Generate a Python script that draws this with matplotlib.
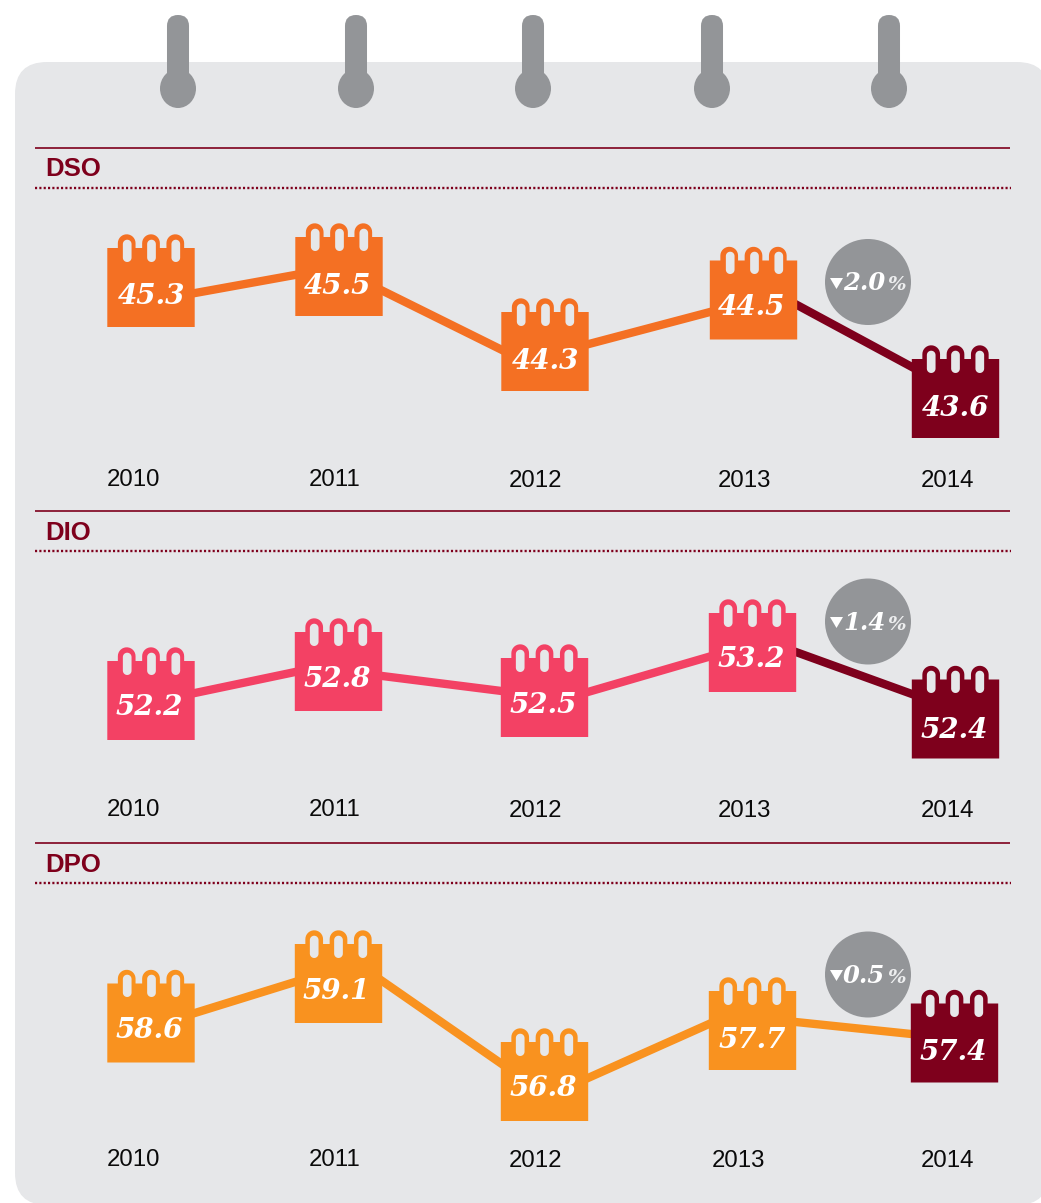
import numpy as np
import matplotlib
matplotlib.use("Agg")
import matplotlib.pyplot as plt
from matplotlib.patches import Circle, Ellipse, FancyBboxPatch
from matplotlib.path import Path

# ---- data -----------------------------------------------------------------
YEARS = [2010, 2011, 2012, 2013, 2014]

DSO_VALUES = [45.3, 45.5, 44.3, 44.5, 43.6]
DIO_VALUES = [52.2, 52.8, 52.5, 53.2, 52.4]
DPO_VALUES = [58.6, 59.1, 56.8, 57.7, 57.4]

# The source infographic is not drawn to scale: drawn heights of the calendars
# (pixels above each panel's lower edge) are read separately from the values.
DSO_HEIGHTS = [222.5, 233.5, 158.5, 210.0, 111.5]
DIO_HEIGHTS = [141.5, 170.5, 144.5, 189.5, 123.0]
DPO_HEIGHTS = [180.0, 219.5, 121.5, 172.5, 160.0]

DSO_LABEL_H = [216.5, 226.5, 152.0, 206.0, 104.5]
DIO_LABEL_H = [138.0, 166.0, 139.5, 186.0, 115.0]
DPO_LABEL_H = [175.5, 215.0, 118.0, 165.5, 154.0]

DSO_LABEL_SHIFT = [0.5, -1.5, 0.5, -2.0, 0.0]
DIO_LABEL_SHIFT = [-1.5, -1.0, -1.5, -1.0, -1.0]
DPO_LABEL_SHIFT = [-1.5, -2.0, -1.5, -0.5, -1.5]

DSO_LINE_FROM = [209.0, 240.8, 154.4, 228.5]
DSO_LINE_TO = [243.0, 138.7, 209.5, 119.5]
DIO_LINE_FROM = [139.8, 171.5, 137.4, 205.7]
DIO_LINE_TO = [179.1, 145.6, 197.9, 132.2]
DPO_LINE_FROM = [176.4, 252.3, 105.6, 185.5]
DPO_LINE_TO = [234.5, 109.4, 198.4, 164.5]

DSO_COLUMNS = [151.0, 339.0, 545.0, 753.5, 955.5]
DIO_COLUMNS = [151.0, 338.5, 544.5, 752.5, 955.5]
DPO_COLUMNS = [151.0, 338.5, 544.5, 752.5, 954.5]

DSO_YEAR_X = [133, 335, 536, 744, 948]
DIO_YEAR_X = [133, 335, 536, 744, 948]
DPO_YEAR_X = [133, 335, 536, 738, 948]
DSO_YEAR_Y = [486, 486, 487, 487, 487]
DIO_YEAR_Y = [816, 816, 817, 817, 817]
DPO_YEAR_Y = [1166, 1166, 1167, 1167, 1167]

PANEL_NAMES = ["DSO", "DIO", "DPO"]
CHANGE_TEXT = ["2.0", "1.4", "0.5"]
HOOK_X = [178, 356, 533, 712, 889]

BG = "#E6E7E9"
GREY = "#939598"
DARK = "#7E001C"
ORANGE = "#F47023"
PINK = "#F34164"
AMBER = "#F9921F"

W, H, DPI = 1041, 1203, 100
SERIF = dict(family="DejaVu Serif", weight="bold", style="italic")
SANS = "Liberation Sans"


# ---- calendar glyph, in pixels around the centre of its body ---------------
def capsule(cx, y0, y1, r, n=14):
    t = np.linspace(np.pi, 0, n)
    top = np.c_[cx + r * np.cos(t), y1 - r + r * np.sin(t)]
    bot = np.c_[cx + r * np.cos(t + np.pi), y0 + r + r * np.sin(t + np.pi)]
    return np.vstack([top, bot])


def polygon(v):
    v = np.vstack([v, v[:1]])
    codes = [Path.MOVETO] + [Path.LINETO] * (len(v) - 2) + [Path.CLOSEPOLY]
    return Path(v, codes)


HW, HH, RING_TOP, RING_R = 43.7, 39.5, 13.7, 8.85
RINGS = (-24.3, 0.0, 24.3)

pts = [(-HW, -HH), (-HW, HH)]
for cx in RINGS:
    t = np.linspace(np.pi, 0, 16)
    pts.append((cx - RING_R, HH))
    arc = np.c_[cx + RING_R * np.cos(t), HH + RING_TOP - RING_R + RING_R * np.sin(t)]
    pts.extend(map(tuple, arc))
    pts.append((cx + RING_R, HH))
pts += [(HW, HH), (HW, -HH)]
BODY = polygon(np.array(pts))
SLOTS = Path.make_compound_path(
    *[polygon(capsule(cx, HH - 13.0, HH + 9.3, 4.35)) for cx in RINGS]
)
TRIANGLE = polygon(np.array([(-6.5, 5.5), (6.5, 5.5), (0.0, -5.5)]))


def px_size(path):
    """Scatter size that keeps a custom marker at one unit per output pixel."""
    return (2 * np.max(np.abs(path.vertices)) * 72 / DPI) ** 2


def year_scale(columns):
    yrs = np.array(YEARS, float)
    cols = np.array(columns, float)

    def fwd(x):
        x = np.asarray(x, float)
        out = np.interp(x, yrs, cols)
        out = np.where(x < yrs[0], cols[0] + (x - yrs[0]) * (cols[1] - cols[0]), out)
        return np.where(x > yrs[-1], cols[-1] + (x - yrs[-1]) * (cols[-1] - cols[-2]), out)

    def inv(p):
        p = np.asarray(p, float)
        out = np.interp(p, cols, yrs)
        out = np.where(p < cols[0], yrs[0] + (p - cols[0]) / (cols[1] - cols[0]), out)
        return np.where(p > cols[-1], yrs[-1] + (p - cols[-1]) / (cols[-1] - cols[-2]), out)

    return fwd, inv


fig = plt.figure(figsize=(W / DPI, H / DPI), dpi=DPI, facecolor="white")

# ---- calendar sheet, hooks and rules ---------------------------------------
bg = fig.add_axes([0, 0, 1, 1], zorder=0)
bg.set_xlim(0, W)
bg.set_ylim(H, 0)
bg.axis("off")
R = 32
bg.add_patch(FancyBboxPatch((15 + R, 62 + R), 1034 - 2 * R, 1143 - 2 * R,
                            boxstyle=f"round,pad={R},rounding_size={R}",
                            fc=BG, ec="none", clip_on=True))
for hx in HOOK_X:
    bg.add_patch(FancyBboxPatch((hx - 0.01, 26), 0.02, 60,
                                boxstyle="round,pad=11,rounding_size=11",
                                fc=GREY, ec="none"))
    bg.add_patch(Ellipse((hx, 88.5), 36, 39, fc=GREY, ec="none"))

RULE_Y = [148, 511, 843]
for name, ry in zip(PANEL_NAMES, RULE_Y):
    bg.plot([35, 1010], [ry, ry], color=DARK, lw=1.2, solid_capstyle="butt")
    bg.plot([35, 1011], [ry + 40, ry + 40], color=DARK, lw=1.7,
            dashes=(0.9, 0.935), dash_capstyle="butt")
    bg.text(45, ry + 28.5, name, family=SANS, weight="bold", fontsize=18.5,
            color=DARK, ha="left", va="baseline")

# ---- the three panels ------------------------------------------------------
PANELS = [
    (188, 510, DSO_VALUES, DSO_HEIGHTS, DSO_LABEL_H, DSO_LABEL_SHIFT, DSO_LINE_FROM,
     DSO_LINE_TO, DSO_COLUMNS, DSO_YEAR_X, DSO_YEAR_Y, ORANGE, DARK),
    (551, 842, DIO_VALUES, DIO_HEIGHTS, DIO_LABEL_H, DIO_LABEL_SHIFT, DIO_LINE_FROM,
     DIO_LINE_TO, DIO_COLUMNS, DIO_YEAR_X, DIO_YEAR_Y, PINK, DARK),
    (883, 1203, DPO_VALUES, DPO_HEIGHTS, DPO_LABEL_H, DPO_LABEL_SHIFT, DPO_LINE_FROM,
     DPO_LINE_TO, DPO_COLUMNS, DPO_YEAR_X, DPO_YEAR_Y, AMBER, AMBER),
]

for top, bottom, vals, heights, label_h, shift, l0, l1, cols, yx, yy, col, last_seg in PANELS:
    ax = fig.add_axes([0, 1 - bottom / H, 1, (bottom - top) / H], zorder=2)
    fwd, inv = year_scale(cols)
    ax.set_xscale("function", functions=(fwd, inv))
    ax.set_xlim(float(inv(0.0)), float(inv(float(W))))
    ax.set_ylim(0, bottom - top)
    ax.axis("off")
    ax.patch.set_alpha(0)

    for i in range(4):
        ax.plot(YEARS[i:i + 2], [l0[i], l1[i]], lw=6.0,
                color=last_seg if i == 3 else col,
                solid_capstyle="butt", zorder=1)

    colors = [col] * 4 + [DARK]
    ax.scatter(YEARS, heights, marker=BODY, s=px_size(BODY), c=colors,
               linewidths=0, zorder=2, clip_on=False)
    ax.scatter(YEARS, heights, marker=SLOTS, s=px_size(SLOTS), c=BG,
               linewidths=0, zorder=3, clip_on=False)
    for yr, lh, dx, v in zip(YEARS, label_h, shift, vals):
        ax.annotate(f"{v:.1f}", (yr, lh), xytext=(dx * 72 / DPI, -7.9),
                    textcoords="offset points", ha="center", va="baseline",
                    color="white", fontsize=20, zorder=4, **SERIF)
    for yr, x, y in zip(YEARS, yx, yy):
        bg.text(x, y, str(yr), family=SANS, fontsize=17.3, color="#0A0A0A",
                ha="center", va="baseline")

# ---- percentage-change badges ----------------------------------------------
top_ax = fig.add_axes([0, 0, 1, 1], zorder=3)
top_ax.set_xlim(0, W)
top_ax.set_ylim(H, 0)
top_ax.axis("off")
top_ax.patch.set_alpha(0)
BADGE_Y = [282, 621.5, 974.5]
for txt, by in zip(CHANGE_TEXT, BADGE_Y):
    top_ax.add_patch(Circle((868, by), 43, fc=GREY, ec="none"))
    top_ax.scatter([835.5], [by + 0.5], marker=TRIANGLE, s=px_size(TRIANGLE),
                   c="white", linewidths=0)
    top_ax.text(843, by + 8.5, txt, color="white", fontsize=17.5,
                ha="left", va="baseline", **SERIF)
    top_ax.text(887, by + 8.5, "%", color="#EDEEEF", fontsize=14,
                ha="left", va="baseline", **SERIF)

fig.savefig("out.png", dpi=DPI, facecolor="white")
